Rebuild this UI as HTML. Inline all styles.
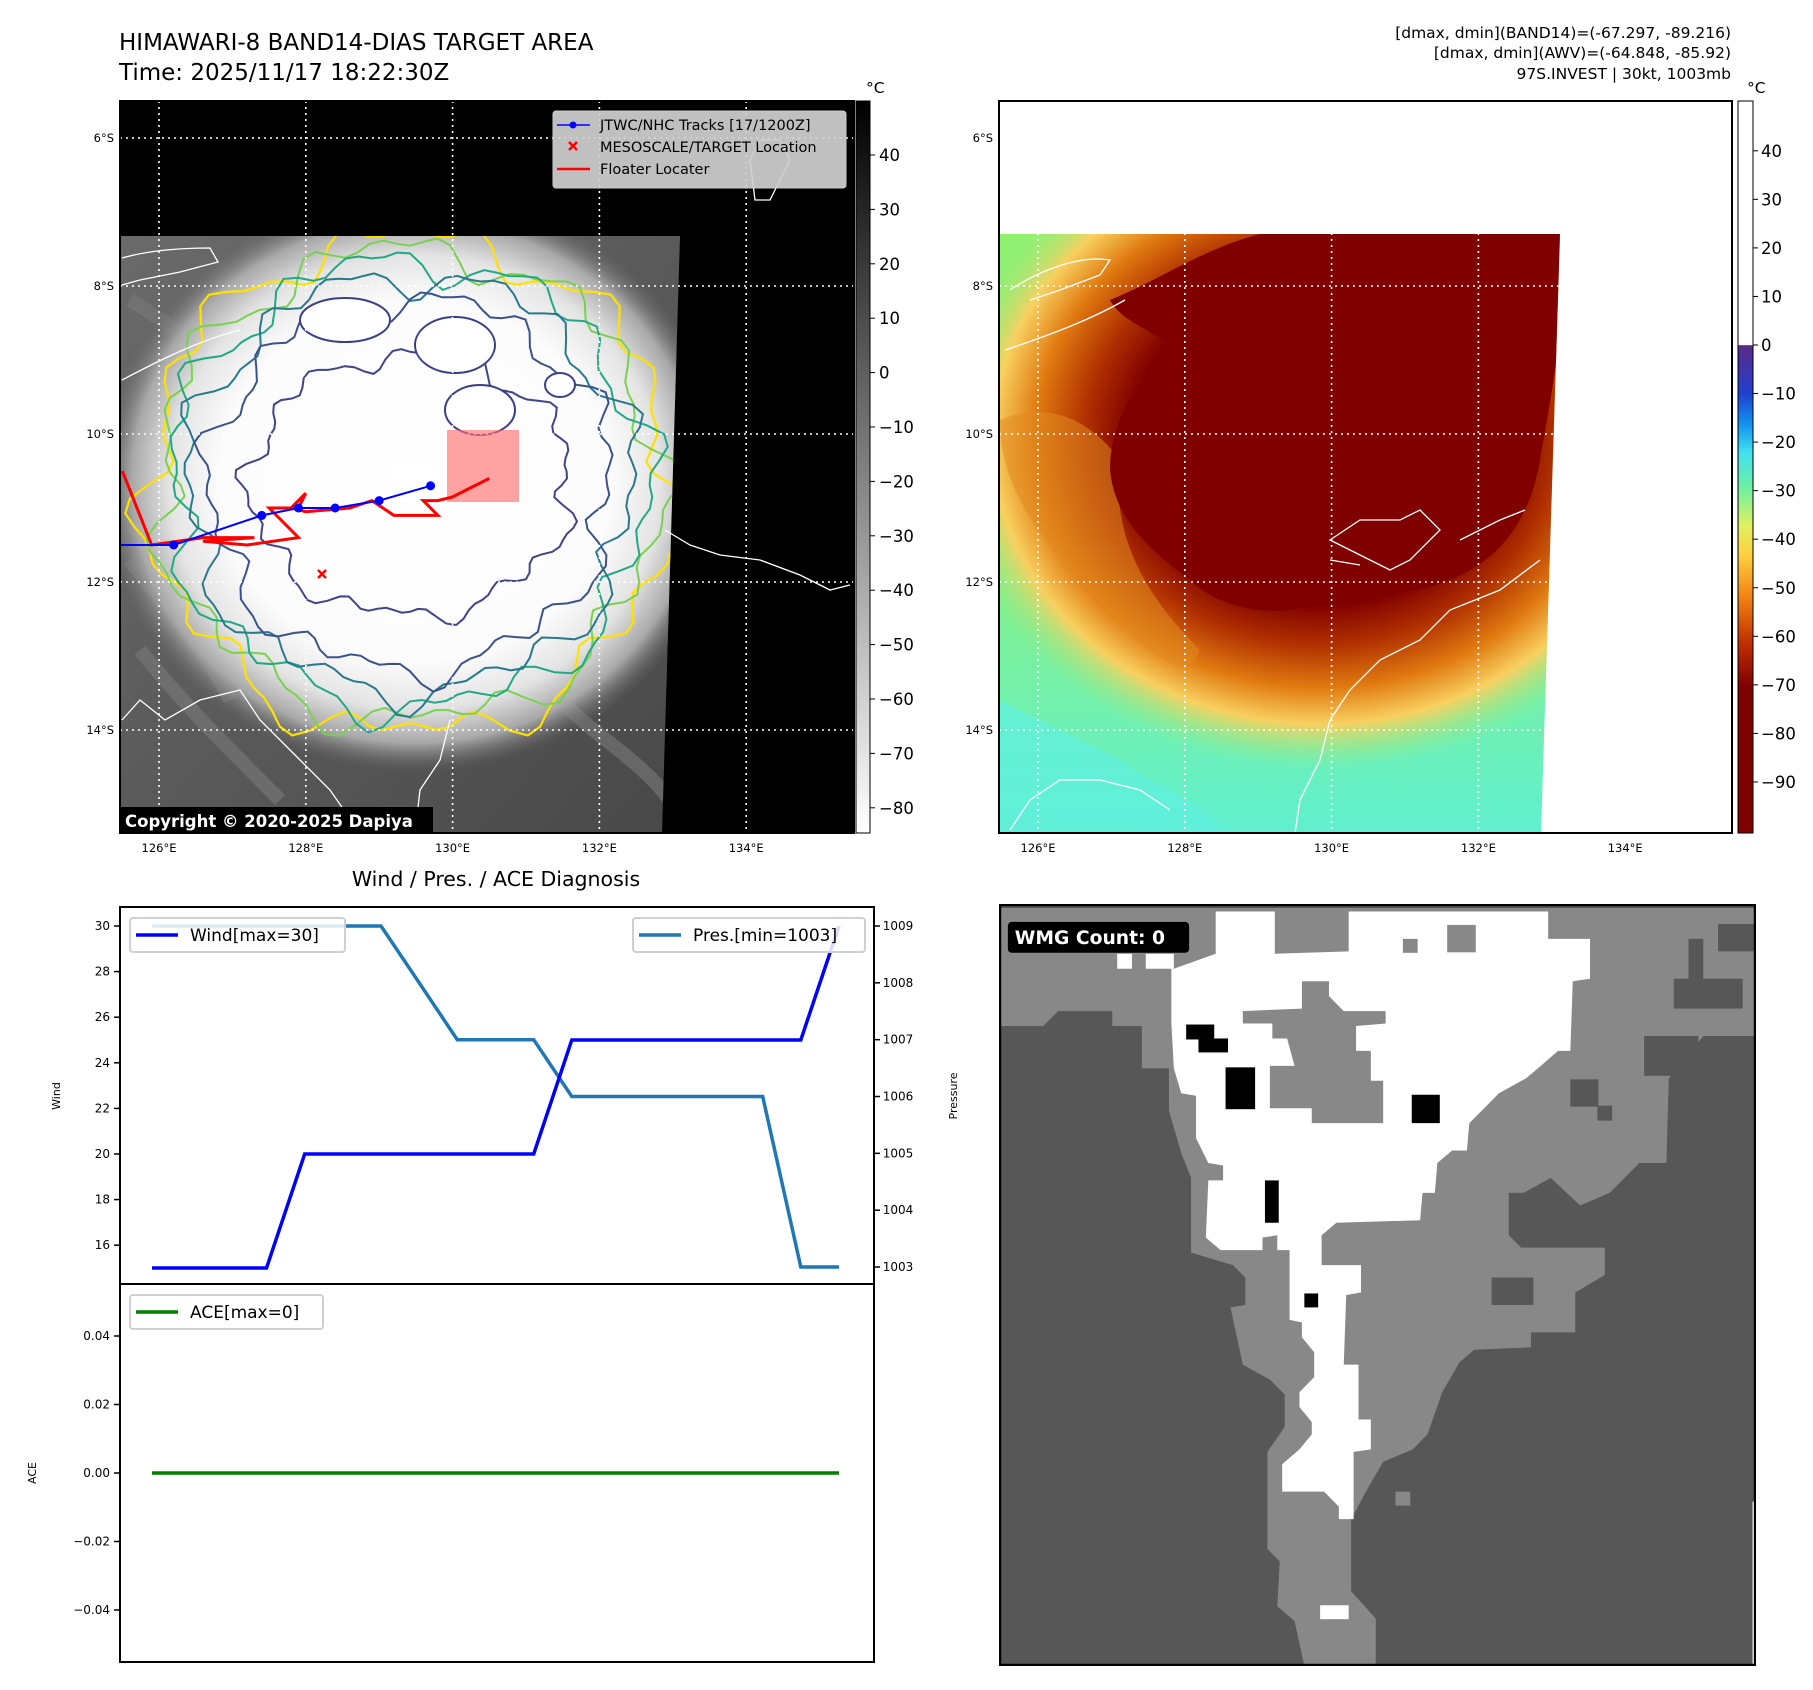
<!DOCTYPE html>
<html><head><meta charset="utf-8"><style>
html,body{margin:0;padding:0;background:#fff;}
body{width:1813px;height:1690px;position:relative;overflow:hidden;font-family:"Liberation Sans","DejaVu Sans",sans-serif;}
svg{position:absolute;left:0;top:0;}
</style></head><body>
<svg id="root" width="1813" height="1690" viewBox="0 0 1813 1690" xmlns="http://www.w3.org/2000/svg" font-family="DejaVu Sans, Liberation Sans, sans-serif">
<defs>
 <radialGradient id="cloudL" cx="0.5" cy="0.5" r="0.5">
  <stop offset="0" stop-color="#fff"/><stop offset="0.62" stop-color="#fcfcfc"/><stop offset="0.78" stop-color="#e4e4e4"/><stop offset="0.9" stop-color="#a8a8a8"/><stop offset="1" stop-color="#6a6a6a" stop-opacity="0"/>
 </radialGradient>
 <linearGradient id="greyBg" x1="0" y1="0" x2="1" y2="1">
  <stop offset="0" stop-color="#6a6a6a"/><stop offset="0.5" stop-color="#5a5a5a"/><stop offset="1" stop-color="#484848"/>
 </linearGradient>
 <radialGradient id="cloudR" cx="0.5" cy="0.5" r="0.5">
  <stop offset="0" stop-color="#800000"/><stop offset="0.5" stop-color="#800000"/><stop offset="0.62" stop-color="#b03000"/><stop offset="0.75" stop-color="#e07a10"/><stop offset="0.86" stop-color="#f8d060"/><stop offset="1" stop-color="#90f080" stop-opacity="0"/>
 </radialGradient>
 <linearGradient id="greenBg" x1="0" y1="0" x2="0" y2="1">
  <stop offset="0" stop-color="#90f070"/><stop offset="0.6" stop-color="#80f090"/><stop offset="1" stop-color="#60f0d0"/>
 </linearGradient>
 <linearGradient id="cbL" x1="0" y1="0" x2="0" y2="1">
  <stop offset="0" stop-color="#000"/><stop offset="1" stop-color="#fff"/>
 </linearGradient>
 <linearGradient id="cbR" x1="0" y1="0" x2="0" y2="1">
  <stop offset="0" stop-color="#fff"/><stop offset="0.333" stop-color="#fff"/>
  <stop offset="0.334" stop-color="#5a2a88"/><stop offset="0.4" stop-color="#2040d0"/>
  <stop offset="0.44" stop-color="#1090f0"/><stop offset="0.48" stop-color="#40e0f0"/>
  <stop offset="0.53" stop-color="#70f0a0"/><stop offset="0.58" stop-color="#e0f060"/>
  <stop offset="0.62" stop-color="#ffd040"/><stop offset="0.68" stop-color="#f08010"/>
  <stop offset="0.74" stop-color="#c03000"/><stop offset="0.8" stop-color="#800000"/><stop offset="1" stop-color="#800000"/>
 </linearGradient>
 <clipPath id="clipL"><rect x="120" y="101" width="734" height="732"/></clipPath>
 <clipPath id="clipR"><rect x="999" y="101" width="733" height="732"/></clipPath>
 <clipPath id="dataL"><polygon points="120,236 680,236 662,833 120,833"/></clipPath>
 <clipPath id="dataR"><polygon points="999,234 1560,234 1541,833 999,833"/></clipPath>
</defs>

<text x="119" y="50" font-size="23">HIMAWARI-8 BAND14-DIAS TARGET AREA</text>
<text x="119" y="80" font-size="23">Time: 2025/11/17 18:22:30Z</text>
<g font-size="15.5" text-anchor="end">
 <text x="1731" y="38">[dmax, dmin](BAND14)=(-67.297, -89.216)</text>
 <text x="1731" y="58">[dmax, dmin](AWV)=(-64.848, -85.92)</text>
 <text x="1731" y="79">97S.INVEST | 30kt, 1003mb</text>
</g>

<g id="mapL">
 <rect x="120" y="101" width="734" height="732" fill="#000"/>
 <g clip-path="url(#dataL)">
  <rect x="120" y="236" width="560" height="597" fill="url(#greyBg)"/>
  <path d="M130,300 C180,330 220,360 250,420 M140,650 C180,700 220,740 280,800 M560,700 C600,740 640,760 670,800 M130,560 C160,600 200,640 230,700" stroke="#7a7a7a" stroke-width="14" fill="none" opacity="0.6"/>
  <ellipse cx="415" cy="482" rx="315" ry="290" fill="url(#cloudL)"/>
  <g id="contoursL" fill="none"></g>
 </g>
 <g id="gridL"></g>
 <path d="M122,258 C150,250 180,248 210,248 L218,262 L180,272 L140,280 L122,285 M122,380 C160,360 200,340 240,330 M665,530 L690,545 L720,555 L760,560 L800,575 L830,590 L850,585 M122,720 L140,700 L165,720 L200,700 L240,690 L260,720 L300,760 L330,790 L360,833 M450,720 L440,760 L420,790 L415,833 M750,160 L760,140 L780,140 L790,160 L770,200 L755,200 Z" stroke="#fff" stroke-width="1.3" fill="none" clip-path="url(#clipL)"/>
 <rect x="447" y="430" width="72" height="72" fill="#ff7070" fill-opacity="0.65"/>
 <g id="tracks" clip-path="url(#clipL)"></g>
 <path d="M318,570 L326,578 M326,570 L318,578" stroke="#f00" stroke-width="2.5"/>
 <rect x="120" y="807" width="313" height="26" fill="#000"/>
 <text x="125" y="827" font-size="16.5" font-weight="bold" fill="#fff">Copyright © 2020-2025 Dapiya</text>
 <g>
  <rect x="553" y="111" width="293" height="77" rx="3" fill="#d0d0d0" fill-opacity="0.92" stroke="#ccc"/>
  <line x1="557" y1="125" x2="590" y2="125" stroke="#00f" stroke-width="1.5"/><circle cx="573" cy="125" r="3.5" fill="#00f"/>
  <text x="600" y="130" font-size="14.5">JTWC/NHC Tracks [17/1200Z]</text>
  <path d="M569,142 L577,150 M577,142 L569,150" stroke="#f00" stroke-width="2.5"/>
  <text x="600" y="152" font-size="14.5">MESOSCALE/TARGET Location</text>
  <line x1="557" y1="169" x2="590" y2="169" stroke="#f00" stroke-width="2.5"/>
  <text x="600" y="174" font-size="14.5">Floater Locater</text>
 </g>
 <rect x="120" y="101" width="734" height="732" fill="none" stroke="#000" stroke-width="2"/>
</g>

<g>
 <rect x="856" y="101" width="14" height="732" fill="url(#cbL)" stroke="#000" stroke-width="1"/>
 <text x="866" y="93" font-size="15.5">°C</text>
 <g id="cbLticks" font-size="16.5"></g>
</g>

<g id="mapR">
 <rect x="999" y="101" width="733" height="732" fill="#fff"/>
 <g clip-path="url(#dataR)">
  <rect x="999" y="234" width="562" height="600" fill="url(#greenBg)"/>
  <ellipse cx="1320" cy="440" rx="380" ry="330" fill="url(#cloudR)"/>
  <path d="M1000,420 C1050,400 1090,420 1120,460 C1110,540 1150,600 1200,650 C1180,700 1120,620 1060,560 C1030,520 1000,480 1000,420 Z" fill="#e08a20" opacity="0.55"/>
  <path d="M1110,470 C1110,420 1140,370 1180,350 C1150,330 1120,320 1110,300 C1160,280 1200,250 1260,234 L1560,234 L1560,330 C1555,380 1545,430 1540,460 C1530,520 1500,560 1450,580 C1400,600 1330,600 1290,610 C1250,615 1210,600 1190,580 C1150,550 1115,520 1110,470 Z" fill="#800000"/>
  <path d="M999,834 L999,700 C1040,720 1080,740 1120,760 C1160,790 1200,800 1230,834 Z" fill="#60f0e0" opacity="0.7"/>
 </g>
 <path d="M1010,290 C1040,270 1080,255 1110,260 L1100,275 L1060,290 L1030,300 M1005,350 C1050,335 1090,320 1125,300 M1330,540 L1360,520 L1400,520 L1420,510 L1440,530 L1410,560 L1390,570 L1360,555 Z M1330,560 L1360,565 M1460,540 L1500,520 L1525,510 M1540,560 L1500,590 L1450,610 L1420,640 L1380,660 L1350,690 L1330,720 L1320,760 L1300,800 L1295,833 M1010,830 L1030,800 L1060,780 L1100,780 L1140,790 L1170,810" stroke="#fff" stroke-width="1.3" fill="none" clip-path="url(#clipR)"/>
 <g id="gridR"></g>
 <rect x="999" y="101" width="733" height="732" fill="none" stroke="#000" stroke-width="2"/>
</g>
<g>
 <rect x="1738" y="101" width="15" height="732" fill="url(#cbR)" stroke="#000" stroke-width="1"/>
 <text x="1747" y="93" font-size="15.5">°C</text>
 <g id="cbRticks" font-size="16.5"></g>
</g>

<text x="496" y="886" font-size="20.5" text-anchor="middle">Wind / Pres. / ACE Diagnosis</text>
<g id="chart"></g>

<svg x="999" y="904" width="757" height="762" viewBox="0 0 1537 1530" preserveAspectRatio="none">
 <rect x="0" y="0" width="1537" height="1530" fill="#575757"/>
 <polygon fill="#888" points="0,8 1537,8 1537,265 1430,265 1360,350 1355,520 1300,520 1240,580 1180,605 1120,550 1065,580 1035,580 1035,665 1060,690 1230,690 1230,745 1170,780 1170,860 1080,860 1080,890 965,895 935,920 900,980 870,1065 840,1095 780,1120 745,1180 715,1235 715,1380 765,1435 765,1530 620,1530 600,1440 565,1410 570,1320 545,1295 545,1100 580,1050 580,985 550,955 495,925 470,810 500,805 500,750 475,725 390,700 390,550 370,500 345,415 345,330 290,330 290,245 230,245 230,215 120,215 90,245 0,245"/>
 <polygon fill="#fff" points="355,130 440,100 440,15 560,15 560,100 710,95 710,15 1115,15 1115,70 1200,70 1200,150 1165,155 1160,295 1135,295 1100,325 1070,350 1015,380 985,410 955,440 950,495 920,495 890,520 885,580 860,580 855,635 685,640 655,665 655,725 735,725 735,780 705,785 700,925 730,925 730,1035 755,1035 755,1095 720,1100 720,1235 690,1235 690,1210 660,1180 575,1180 575,1125 610,1095 635,1065 635,1040 610,1010 610,980 640,950 640,900 615,870 615,840 590,835 590,695 565,695 565,665 535,670 535,695 450,695 420,670 425,555 455,555 455,525 425,520 400,470 400,385 370,380 355,330 350,240 350,130"/>
 <rect x="240" y="100" width="30" height="30" fill="#fff"/><rect x="298" y="100" width="57" height="30" fill="#fff"/>
 <polygon fill="#888" points="615,155 670,155 670,185 700,215 785,215 785,240 725,245 725,295 755,295 755,355 780,355 780,440 635,440 635,410 550,410 550,325 600,325 585,270 555,270 555,240 495,240 495,215 615,210"/>
 <rect x="820" y="70" width="30" height="28" fill="#888"/><rect x="910" y="42" width="58" height="55" fill="#888"/>
 <rect x="1160" y="352" width="57" height="55" fill="#575757"/><rect x="1215" y="405" width="30" height="30" fill="#575757"/>
 <rect x="1000" y="750" width="85" height="55" fill="#575757"/><rect x="1370" y="150" width="140" height="60" fill="#575757"/>
 <rect x="1400" y="70" width="30" height="90" fill="#575757"/><rect x="1460" y="40" width="77" height="55" fill="#575757"/>
 <rect x="1310" y="265" width="110" height="80" fill="#575757"/>
 <rect x="805" y="1180" width="30" height="28" fill="#888"/>
 <rect x="652" y="1408" width="58" height="28" fill="#fff"/>
 <rect x="460" y="328" width="60" height="84" fill="#000"/><rect x="838" y="383" width="57" height="57" fill="#000"/>
 <rect x="380" y="242" width="57" height="30" fill="#000"/><rect x="405" y="270" width="60" height="28" fill="#000"/>
 <rect x="540" y="555" width="28" height="85" fill="#000"/><rect x="620" y="782" width="28" height="28" fill="#000"/>
 <rect x="1530" y="1200" width="7" height="330" fill="#fff"/>
 <rect x="18" y="36" width="368" height="62" rx="8" fill="#000"/>
 <text x="32" y="80" font-size="38" font-weight="bold" fill="#fff" font-family="DejaVu Sans, sans-serif">WMG Count: 0</text>
 <rect x="2" y="2" width="1533" height="1526" fill="none" stroke="#000" stroke-width="5"/>
</svg>
</svg>

<script>
const windValues = [15,15,15,15,20,20,20,20,20,20,20,25,25,25,25,25,25,25,30];
const presValues = [1009,1009,1009,1009,1009,1009,1009,1008,1007,1007,1007,1006,1006,1006,1006,1006,1006,1003,1003];
const aceValues  = [0,0,0,0,0,0,0,0,0,0,0,0,0,0,0,0,0,0,0];
const windTicks = [16,18,20,22,24,26,28,30];
const presTicks = [1003,1004,1005,1006,1007,1008,1009];
const aceTicks = [0.04,0.02,0.00,-0.02,-0.04];
const aceTickLabels = ["0.04","0.02","0.00","\u22120.02","\u22120.04"];
const cbLTicks = [40,30,20,10,0,-10,-20,-30,-40,-50,-60,-70,-80];
const cbRTicks = [40,30,20,10,0,-10,-20,-30,-40,-50,-60,-70,-80,-90];
const lonTicks = [126,128,130,132,134];
const latTicks = [6,8,10,12,14];
const trackLon = [126.2,127.4,127.9,128.4,129.0,129.7];
const trackLat = [11.5,11.1,11.0,11.0,10.9,10.7];
const floaterLon = [125.5,125.9,126.6,127.3,126.6,127.2,127.9,127.5,127.9,128.0,127.8,128.0,128.6,128.9,129.2,129.8,129.6,129.8,130.0,130.5];
const floaterLat = [10.5,11.5,11.4,11.4,11.45,11.5,11.4,11.0,11.0,10.8,11.0,11.05,11.0,10.9,11.1,11.1,10.9,10.9,10.85,10.6];

const NS='http://www.w3.org/2000/svg';
function mk(tag, attrs, parent){const e=document.createElementNS(NS,tag);for(const k in attrs)e.setAttribute(k,attrs[k]);parent.appendChild(e);return e;}

const lonX = (lon, x0) => x0 + 39 + (lon-126)*73.4;
const latY = lat => 138 + (lat-6)*74;

function grid(gid, x0, x1){
  const g=document.getElementById(gid);
  lonTicks.forEach(l=>{
    const x=lonX(l,x0);
    const ln=mk('line',{x1:x,x2:x,y1:101,y2:833,stroke:'#fff','stroke-width':1.6,'stroke-dasharray':'2,4'},g);
    
    
    const t=mk('text',{x:x,y:852,'font-size':11.5,'text-anchor':'middle'},g);
    t.textContent=l+'°E';
    
    
  });
  latTicks.forEach(l=>{
    const y=latY(l);
    const ln=mk('line',{x1:x0,x2:x1,y1:y,y2:y,stroke:'#fff','stroke-width':1.6,'stroke-dasharray':'2,4'},g);
    
    
    const t=mk('text',{x:x0-6,y:y+4,'font-size':11.5,'text-anchor':'end'},g);
    t.textContent=l+'°S';
    
    
  });
}
grid('gridL',120,854);
grid('gridR',999,1732);

(function(){
  const g=document.getElementById('contoursL');
  const specs=[['#ffe000',262,248,2.2],['#7ad151',250,236,2],['#22a884',238,224,2],['#2a788e',222,208,2],['#3b528b',200,186,2],['#414487',160,130,2]];
  specs.forEach((s,i)=>{
    let d='';
    for(let k=0;k<=120;k++){
      const a=k/120*Math.PI*2;
      const w=1+0.05*Math.sin(a*7+i)+0.04*Math.sin(a*13+2*i)+0.03*Math.sin(a*23+i*3);
      const x=410+s[1]*w*Math.cos(a), y=485+s[2]*w*Math.sin(a);
      d+=(k?'L':'M')+x.toFixed(1)+','+y.toFixed(1);
    }
    const p=mk('path',{d:d+'Z',stroke:s[0],'stroke-width':s[3],fill:'none'},g);
    
    
  });
  const inner=[[345,320,45,22],[455,345,40,28],[480,410,35,25],[560,385,15,12]];
  inner.forEach(c=>{const e=mk('ellipse',{cx:c[0],cy:c[1],rx:c[2],ry:c[3],fill:'#fff',stroke:'#3b3f8a','stroke-width':2},g);
    });
})();

(function(){
  const g=document.getElementById('tracks');
  const fp=floaterLon.map((l,i)=>lonX(l,120).toFixed(1)+','+latY(floaterLat[i]).toFixed(1)).join(' ');
  const f=mk('polyline',{points:fp,fill:'none',stroke:'#f00','stroke-width':3},g);
  
  
  const tp='120,'+latY(11.5).toFixed(1)+' '+trackLon.map((l,i)=>lonX(l,120).toFixed(1)+','+latY(trackLat[i]).toFixed(1)).join(' ');
  const t=mk('polyline',{points:tp,fill:'none',stroke:'#00f','stroke-width':2},g);
  
  
  trackLon.forEach((l,i)=>{
    const c=mk('circle',{cx:lonX(l,120),cy:latY(trackLat[i]),r:4.5,fill:'#00f'},g);
    
    
  });
})();

(function(){
  const gl=document.getElementById('cbLticks');
  cbLTicks.forEach(v=>{const y=155+(40-v)*5.44;
    mk('line',{x1:870,x2:875,y1:y,y2:y,stroke:'#000'},gl);
    const t=mk('text',{x:879,y:y+6},gl);t.textContent=(v<0?'\u2212'+(-v):v);
    });
  const gr=document.getElementById('cbRticks');
  cbRTicks.forEach(v=>{const y=345-v*4.855;
    mk('line',{x1:1753,x2:1758,y1:y,y2:y,stroke:'#000'},gr);
    const t=mk('text',{x:1761,y:y+6},gr);t.textContent=(v<0?'\u2212'+(-v):v);
    });
})();

(function(){
  const g=document.getElementById('chart');
  const L=120,R=874,T1=907,B1=1284,B2=1662;
  const n=windValues.length;
  const xs=i=>152+i*(839-152)/(n-1);
  const wy=v=>926+(30-v)*22.8;
  const py=v=>926+(1009-v)*(1267-926)/6;
  const ay=v=>1473-v*(1473-1336)/0.04;
  mk('rect',{x:L,y:T1,width:R-L,height:B2-T1,fill:'#fff'},g);
  windTicks.forEach(v=>{const y=wy(v);mk('line',{x1:L-6,x2:L,y1:y,y2:y,stroke:'#000','stroke-width':1.5},g);
    const t=mk('text',{x:L-10,y:y+4,'font-size':12,'text-anchor':'end'},g);t.textContent=v;
    });
  presTicks.forEach(v=>{const y=py(v);mk('line',{x1:R,x2:R+6,y1:y,y2:y,stroke:'#000','stroke-width':1.5},g);
    const t=mk('text',{x:R+24,y:y+4,'font-size':12,'text-anchor':'middle'},g);t.textContent=v;
    });
  aceTicks.forEach((v,i)=>{const y=ay(v);mk('line',{x1:L-6,x2:L,y1:y,y2:y,stroke:'#000','stroke-width':1.5},g);
    const t=mk('text',{x:L-10,y:y+4,'font-size':12,'text-anchor':'end'},g);t.textContent=aceTickLabels[i];
    });
  let t=mk('text',{x:0,y:0,'font-size':11,'text-anchor':'middle',transform:'translate(60,1096) rotate(-90)'},g);t.textContent='Wind';
  
  t=mk('text',{x:0,y:0,'font-size':11,'text-anchor':'middle',transform:'translate(957,1096) rotate(-90)'},g);t.textContent='Pressure';
  
  t=mk('text',{x:0,y:0,'font-size':11,'text-anchor':'middle',transform:'translate(36,1473) rotate(-90)'},g);t.textContent='ACE';
  
  let p=mk('polyline',{points:presValues.map((v,i)=>xs(i).toFixed(1)+','+py(v).toFixed(1)).join(' '),fill:'none',stroke:'#1f77b4','stroke-width':3.5},g);
  
  p=mk('polyline',{points:windValues.map((v,i)=>xs(i).toFixed(1)+','+wy(v).toFixed(1)).join(' '),fill:'none',stroke:'#0000ff','stroke-width':3.5},g);
  
  p=mk('polyline',{points:aceValues.map((v,i)=>xs(i).toFixed(1)+','+ay(v).toFixed(1)).join(' '),fill:'none',stroke:'#008000','stroke-width':3.5},g);
  
  function legend(x,y,w,color,label,name){
    const lg=mk('g',{},g);
    
    
    mk('rect',{x:x,y:y,width:w,height:34,rx:3,fill:'#fff','fill-opacity':0.85,stroke:'#d0d0d0','stroke-width':2},lg);
    mk('line',{x1:x+6,x2:x+48,y1:y+17,y2:y+17,stroke:color,'stroke-width':3.5},lg);
    const tt=mk('text',{x:x+60,y:y+23,'font-size':17},lg);tt.textContent=label;
  }
  legend(130,918,215,'#0000ff','Wind[max=30]','wind-legend');
  legend(633,918,232,'#1f77b4','Pres.[min=1003]','pressure-legend');
  legend(130,1295,193,'#008000','ACE[max=0]','ace-legend');
  mk('rect',{x:L,y:T1,width:R-L,height:B2-T1,fill:'none',stroke:'#000','stroke-width':2},g);
  mk('line',{x1:L,x2:R,y1:B1,y2:B1,stroke:'#000','stroke-width':2},g);
})();
</script>
</body></html>
